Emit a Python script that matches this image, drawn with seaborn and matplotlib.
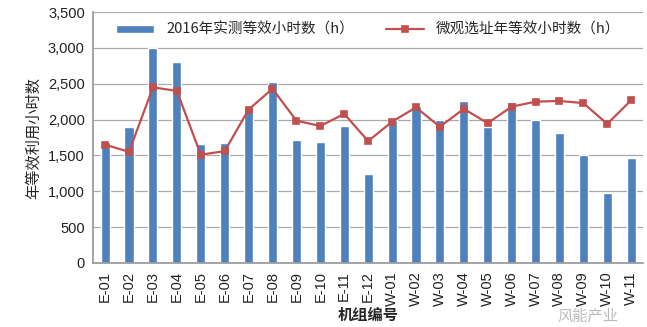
import matplotlib
matplotlib.use("Agg")
import matplotlib.pyplot as plt
import seaborn as sns
import pandas as pd

categories = ["E-01", "E-02", "E-03", "E-04", "E-05", "E-06", "E-07", "E-08", "E-09", "E-10",
              "E-11", "E-12", "W-01", "W-02", "W-03", "W-04", "W-05", "W-06", "W-07", "W-08",
              "W-09", "W-10", "W-11"]
measured_2016 = [1690, 1900, 3000, 2800, 1660, 1670, 2180, 2530, 1720, 1690,
                 1910, 1240, 1990, 2190, 2000, 2260, 1900, 2240, 2000, 1810,
                 1500, 970, 1460]
micro_siting = [1650, 1550, 2450, 2400, 1510, 1560, 2140, 2430, 1985, 1910,
                2080, 1700, 1970, 2170, 1900, 2150, 1950, 2180, 2250, 2260,
                2230, 1940, 2270]
bar_label = "2016年实测等效小时数（h）"
line_label = "微观选址年等效小时数（h）"
y_ticks = [0, 500, 1000, 1500, 2000, 2500, 3000, 3500]

sns.set_theme(style="white")
plt.rcParams['font.family'] = ['Liberation Sans', 'Noto Sans CJK SC', 'DejaVu Sans']

df = pd.DataFrame({"cat": categories, "bar": measured_2016, "line": micro_siting})

fig = plt.figure(figsize=(6.47, 3.27), dpi=100)
ax = fig.add_axes([0.144, 0.196, 0.85, 0.767])

sns.barplot(data=df, x="cat", y="bar", color="#4F81BD", saturation=1, width=0.38,
            ax=ax, label=bar_label, zorder=2)
sns.pointplot(data=df, x="cat", y="line", color="#C0504D", markers="s", markersize=5,
              linewidth=1.6, ax=ax, label=line_label, zorder=3)

ax.set_ylim(0, 3500)
ax.set_xlim(-0.5, len(categories) - 0.5)
ax.set_yticks(y_ticks)
ax.set_yticklabels([f"{v:,}" for v in y_ticks], fontsize=10.5, color="#222222")
ax.tick_params(axis="x", rotation=90, labelsize=10.5, colors="#222222", length=0, pad=6)
ax.tick_params(axis="y", length=0, pad=6)
ax.yaxis.grid(True, color="#AAAAAA", linewidth=0.9)
ax.set_axisbelow(True)
for s in ["top", "right"]:
    ax.spines[s].set_visible(False)
ax.spines["left"].set_color("#999999")
ax.spines["bottom"].set_color("#999999")

ax.set_ylabel("年等效利用小时数", fontsize=11, labelpad=4,
              family=['Noto Sans CJK SC', 'DejaVu Sans'])
ax.set_xlabel("机组编号", fontsize=11, fontweight="bold", labelpad=1,
              family=['Noto Sans CJK SC', 'DejaVu Sans'])

handles, labels = ax.get_legend_handles_labels()
order = [labels.index(bar_label), labels.index(line_label)]
ax.legend([handles[i] for i in order], [labels[i] for i in order],
          loc="upper center", bbox_to_anchor=(0.5, 1.01), ncol=2, frameon=False,
          handlelength=2.6, handleheight=0.5, columnspacing=2.2,
          prop={'family': ['Noto Sans CJK SC', 'DejaVu Sans'], 'size': 10.5})

fig.text(0.955, 0.02, "风能产业", color="#BBBBBB", fontsize=11, ha="right",
         family=['Noto Sans CJK SC', 'DejaVu Sans'])

fig.savefig("out.png", dpi=100)
